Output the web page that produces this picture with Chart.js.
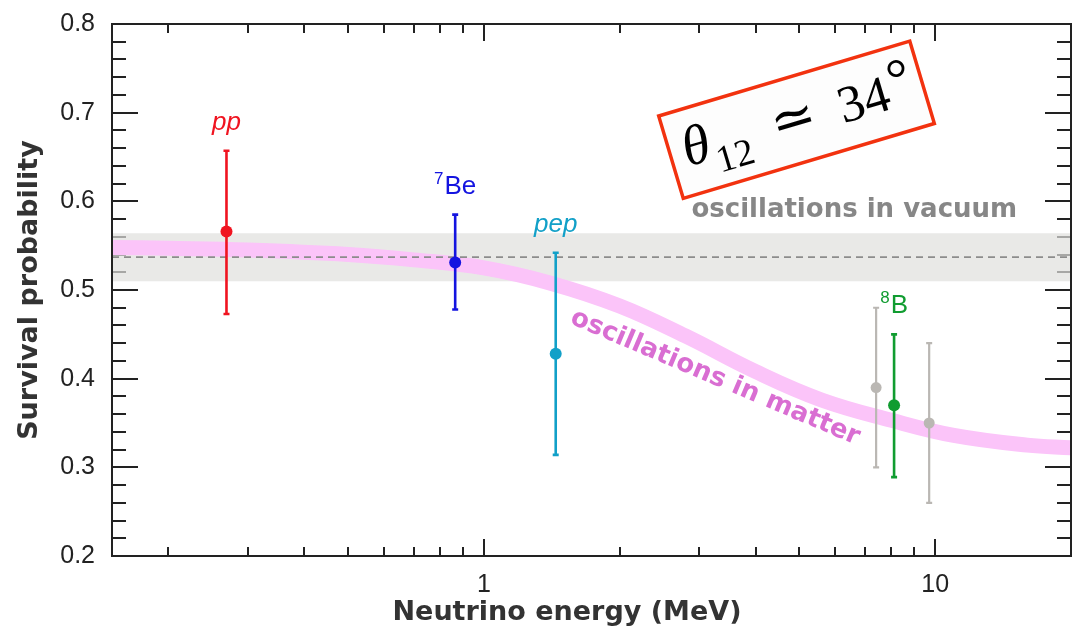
<!DOCTYPE html>
<html>
<head>
<meta charset="utf-8">
<script src="https://cdn.jsdelivr.net/npm/chart.js@4.4.1/dist/chart.umd.min.js"></script>
<style>
html, body { margin: 0; padding: 0; background: #fff; }
#wrap { width: 1077px; height: 635px; }
</style>
</head>
<body>
<div id="wrap"><canvas id="survivalChart"></canvas></div>
<script>
// measured points (energy in MeV)
const sources   = ['pp', '7Be', 'pep', '', '8B', ''];
const energies  = [0.269, 0.864, 1.443, 7.40, 8.11, 9.70];
const probs     = [0.566, 0.531, 0.428, 0.390, 0.370, 0.350];
const errHigh   = [0.657, 0.585, 0.542, 0.480, 0.450, 0.440];
const errLow    = [0.473, 0.478, 0.314, 0.300, 0.289, 0.260];
const pointColors = ['#f01420', '#1414e0', '#12a0c8', '#bab7b3', '#109c30', '#bab7b3'];

// MSW prediction (centre of the pink band)
const curveE = [0.15, 0.2, 0.3, 0.5, 0.7, 1.0, 1.4, 2.0, 2.8, 4.0, 5.6, 8.0, 11, 16, 20];
const curveP = [0.548, 0.547, 0.545, 0.540, 0.534, 0.525, 0.508, 0.482, 0.448, 0.408, 0.376, 0.353, 0.336, 0.325, 0.322];

// vacuum average and its band
const vacuumMid  = 0.537;
const vacuumHigh = 0.564;
const vacuumLow  = 0.510;

const xRange = [0.15, 20];
const yRange = [0.2, 0.8];
const xTicks = [1, 10];
const yTicks = [0.2, 0.3, 0.4, 0.5, 0.6, 0.7, 0.8];

const ink = '#222';

function hline(v) {
  return xRange.map(e => ({ x: e, y: v }));
}

// inward tick marks on all four sides
const tickMarks = {
  id: 'tickMarks',
  beforeDatasetsDraw(chart) {
    const { ctx, chartArea: a, scales: { x, y } } = chart;
    ctx.save();
    ctx.strokeStyle = ink;
    ctx.lineWidth = 2;
    ctx.beginPath();
    for (let i = 0; i <= 30; i++) {
      const py = Math.round(y.getPixelForValue(yRange[0] + i * 0.02));
      const len = i % 5 === 0 ? 26 : 14;
      ctx.moveTo(a.left, py); ctx.lineTo(a.left + len, py);
      ctx.moveTo(a.right, py); ctx.lineTo(a.right - len, py);
    }
    for (let d = 0.1; d < 20; d *= 10) {
      for (let k = 1; k <= 9; k++) {
        const v = d * k;
        if (v <= xRange[0] || v >= xRange[1]) continue;
        const px = Math.round(x.getPixelForValue(v));
        const len = k === 1 ? 17 : 9;
        ctx.moveTo(px, a.bottom); ctx.lineTo(px, a.bottom - len);
        ctx.moveTo(px, a.top); ctx.lineTo(px, a.top + len);
      }
    }
    ctx.stroke();
    ctx.restore();
  }
};

// vertical error bars under the points
const errorBars = {
  id: 'errorBars',
  beforeDatasetDraw(chart, args) {
    if (args.index !== 0) return;
    const { ctx, scales: { x, y } } = chart;
    ctx.save();
    energies.forEach((e, i) => {
      const px = x.getPixelForValue(e);
      const top = y.getPixelForValue(errHigh[i]);
      const bot = y.getPixelForValue(errLow[i]);
      ctx.strokeStyle = pointColors[i];
      ctx.lineWidth = sources[i] ? 2.6 : 2.2;
      ctx.beginPath();
      ctx.moveTo(px, top); ctx.lineTo(px, bot);
      ctx.moveTo(px - 3, top); ctx.lineTo(px + 3, top);
      ctx.moveTo(px - 3, bot); ctx.lineTo(px + 3, bot);
      ctx.stroke();
    });
    ctx.restore();
  }
};

function drawSourceLabel(ctx, text, cx, baseY, color) {
  const m = text.match(/^(\d*)(.*)$/);
  const sup = m[1], main = m[2];
  const italic = main === main.toLowerCase();
  const mainFont = (italic ? 'italic ' : '') + '26px "Liberation Sans", Arial, sans-serif';
  const supFont = '17px "Liberation Sans", Arial, sans-serif';
  ctx.font = supFont;
  const ws = sup ? ctx.measureText(sup).width + 1 : 0;
  ctx.font = mainFont;
  const wm = ctx.measureText(main).width;
  let left = cx - (ws + wm) / 2;
  ctx.fillStyle = color;
  ctx.textAlign = 'left';
  ctx.textBaseline = 'alphabetic';
  if (sup) {
    ctx.font = supFont;
    ctx.fillText(sup, left, baseY - 10);
    left += ws;
  }
  ctx.font = mainFont;
  ctx.fillText(main, left, baseY);
}

const annotations = {
  id: 'annotations',
  afterDraw(chart) {
    const { ctx, chartArea: a, scales: { x, y } } = chart;
    ctx.save();

    // source names above the error bars
    sources.forEach((s, i) => {
      if (!s) return;
      const px = x.getPixelForValue(energies[i]);
      const top = y.getPixelForValue(errHigh[i]);
      drawSourceLabel(ctx, s, px, top - 21, pointColors[i]);
    });

    // curve captions
    ctx.textAlign = 'center';
    ctx.textBaseline = 'alphabetic';
    ctx.font = 'bold 26px "DejaVu Sans", Verdana, sans-serif';
    ctx.fillStyle = '#878787';
    ctx.fillText('oscillations in vacuum', x.getPixelForValue(6.62), y.getPixelForValue(0.582));

    ctx.save();
    ctx.translate(x.getPixelForValue(3.21), y.getPixelForValue(0.394));
    ctx.rotate(23 * Math.PI / 180);
    ctx.fillStyle = '#d96ed2';
    ctx.fillText('oscillations in matter', 0, 0);
    ctx.restore();

    // mixing angle box
    ctx.save();
    ctx.translate(x.getPixelForValue(4.93), y.getPixelForValue(0.692));
    ctx.rotate(-16.6 * Math.PI / 180);
    ctx.fillStyle = '#fdfdfd';
    ctx.fillRect(-131, -43, 262, 86);
    ctx.strokeStyle = '#f2320f';
    ctx.lineWidth = 3.5;
    ctx.strokeRect(-131, -43, 262, 86);
    ctx.fillStyle = '#000';
    ctx.textAlign = 'center';
    ctx.font = 'italic 56px "Liberation Serif", "DejaVu Serif", serif';
    ctx.fillText('θ', -104, 14);
    ctx.font = '38px "Liberation Serif", "DejaVu Serif", serif';
    ctx.fillText('12', -69, 29);
    ctx.font = '54px "DejaVu Serif", serif';
    ctx.fillText('≃', -3, 15);
    ctx.font = '52px "Liberation Serif", "DejaVu Serif", serif';
    ctx.fillText('34', 70, 17);
    ctx.font = '56px "Liberation Serif", "DejaVu Serif", serif';
    ctx.fillText('°', 110, 8);
    ctx.restore();

    // axis titles
    ctx.fillStyle = '#333';
    ctx.font = 'bold 27px "DejaVu Sans", Verdana, sans-serif';
    ctx.textAlign = 'center';
    ctx.textBaseline = 'middle';
    ctx.fillText('Neutrino energy (MeV)', 567, 613);
    ctx.save();
    ctx.translate(30, (a.top + a.bottom) / 2);
    ctx.rotate(-Math.PI / 2);
    ctx.fillText('Survival probability', 0, 0);
    ctx.restore();

    // frame
    ctx.strokeStyle = ink;
    ctx.lineWidth = 2;
    ctx.strokeRect(a.left, a.top, a.right - a.left, a.bottom - a.top);
    ctx.restore();
  }
};

const ctx = document.getElementById('survivalChart').getContext('2d');

new Chart(ctx, {
  type: 'scatter',
  data: {
    datasets: [
      {
        label: 'Measurements',
        data: energies.map((e, i) => ({ x: e, y: probs[i] })),
        pointRadius: energies.map((e, i) => sources[i] ? 6 : 5.5),
        pointBackgroundColor: pointColors,
        pointBorderWidth: 0,
        order: 0
      },
      {
        label: 'Vacuum average',
        data: hline(vacuumMid),
        showLine: true,
        borderColor: '#8c8c8c',
        borderWidth: 1.8,
        borderDash: [7, 5],
        pointRadius: 0,
        order: 1
      },
      {
        label: 'Matter',
        data: curveE.map((e, i) => ({ x: e, y: curveP[i] })),
        showLine: true,
        borderColor: '#fbc4f9',
        borderWidth: 15,
        borderCapStyle: 'butt',
        tension: 0.4,
        pointRadius: 0,
        clip: 0,
        order: 2
      },
      {
        label: 'Vacuum band top',
        data: hline(vacuumHigh),
        showLine: true,
        borderWidth: 0,
        pointRadius: 0,
        fill: '+1',
        backgroundColor: 'rgba(224, 224, 221, 0.7)',
        order: 3
      },
      {
        label: 'Vacuum band bottom',
        data: hline(vacuumLow),
        showLine: true,
        borderWidth: 0,
        pointRadius: 0,
        order: 4
      }
    ]
  },
  options: {
    responsive: true,
    maintainAspectRatio: false,
    animation: false,
    devicePixelRatio: 1,
    layout: { padding: { top: 16, right: 6, left: 0, bottom: 0 } },
    plugins: {
      legend: { display: false },
      tooltip: { enabled: false }
    },
    scales: {
      x: {
        type: 'logarithmic',
        min: xRange[0],
        max: xRange[1],
        grid: { display: false },
        border: { display: false },
        afterBuildTicks: s => { s.ticks = xTicks.map(v => ({ value: v })); },
        afterFit: s => { s.height = 79; },
        ticks: {
          autoSkip: false,
          maxRotation: 0,
          padding: 6,
          color: ink,
          font: { family: '"Liberation Sans", Arial, sans-serif', size: 25 },
          callback: v => String(v)
        }
      },
      y: {
        min: yRange[0],
        max: yRange[1],
        grid: { display: false },
        border: { display: false },
        afterBuildTicks: s => { s.ticks = yTicks.map(v => ({ value: v })); },
        afterFit: s => { s.width = 112; },
        ticks: {
          padding: 9,
          color: ink,
          font: { family: '"Liberation Sans", Arial, sans-serif', size: 25 },
          callback: v => v.toFixed(1)
        }
      }
    }
  },
  plugins: [tickMarks, errorBars, annotations]
});
</script>
</body>
</html>
